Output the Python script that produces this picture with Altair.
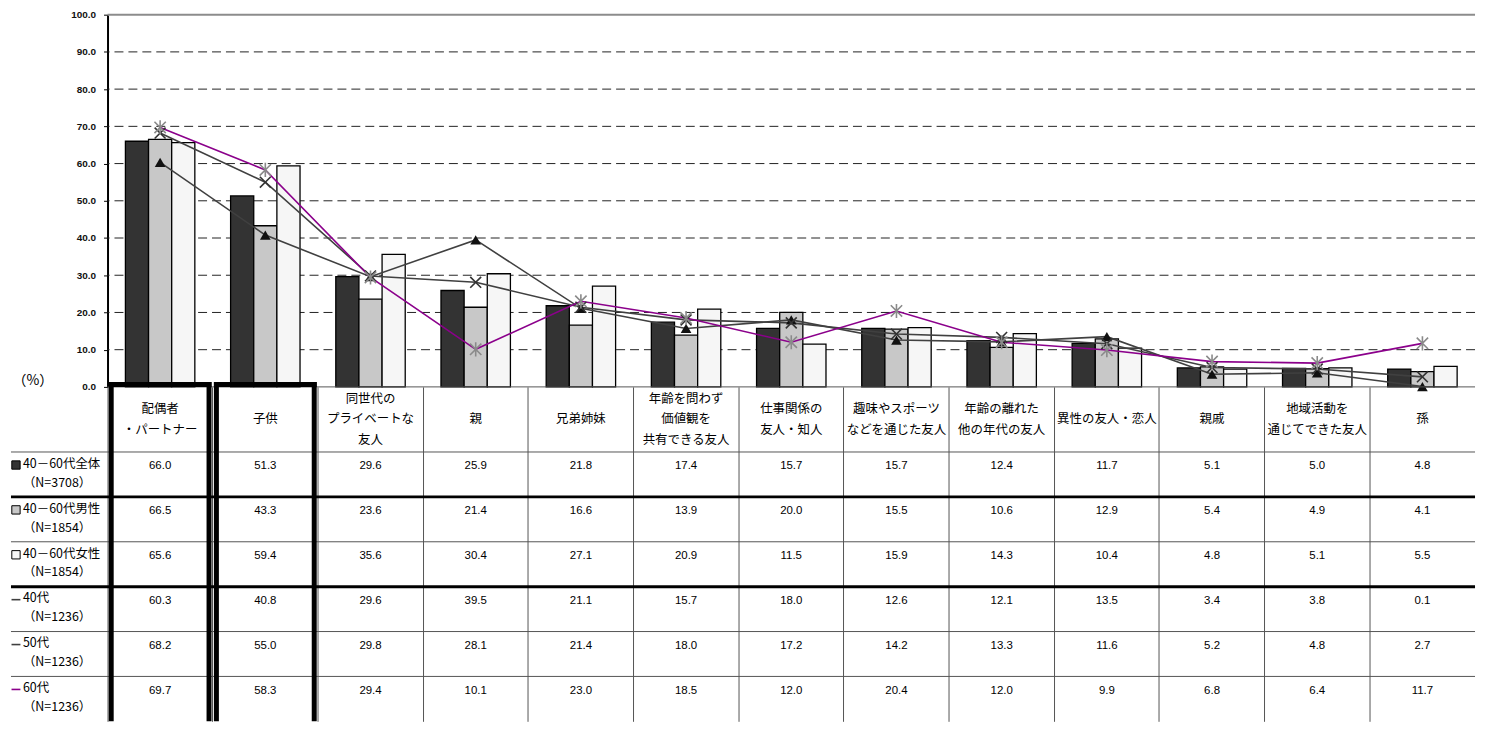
import altair as alt
import pandas as pd

# ---------------- data ----------------
categories = [
    "配偶者\n・パートナー", "子供", "同世代の\nプライベートな\n友人", "親", "兄弟姉妹",
    "年齢を問わず\n価値観を\n共有できる友人", "仕事関係の\n友人・知人",
    "趣味やスポーツ\nなどを通じた友人", "年齢の離れた\n他の年代の友人",
    "異性の友人・恋人", "親戚", "地域活動を\n通じてできた友人", "孫",
]
series_names = ["40－60代全体", "40－60代男性", "40－60代女性", "40代", "50代", "60代"]
sample_sizes = ["（N=3708）", "（N=1854）", "（N=1854）", "（N=1236）", "（N=1236）", "（N=1236）"]

total_4060 = [66.0, 51.3, 29.6, 25.9, 21.8, 17.4, 15.7, 15.7, 12.4, 11.7, 5.1, 5.0, 4.8]
male_4060 = [66.5, 43.3, 23.6, 21.4, 16.6, 13.9, 20.0, 15.5, 10.6, 12.9, 5.4, 4.9, 4.1]
female_4060 = [65.6, 59.4, 35.6, 30.4, 27.1, 20.9, 11.5, 15.9, 14.3, 10.4, 4.8, 5.1, 5.5]
age_40s = [60.3, 40.8, 29.6, 39.5, 21.1, 15.7, 18.0, 12.6, 12.1, 13.5, 3.4, 3.8, 0.1]
age_50s = [68.2, 55.0, 29.8, 28.1, 21.4, 18.0, 17.2, 14.2, 13.3, 11.6, 5.2, 4.8, 2.7]
age_60s = [69.7, 58.3, 29.4, 10.1, 23.0, 18.5, 12.0, 20.4, 12.0, 9.9, 6.8, 6.4, 11.7]

highlighted = categories[:2]          # columns framed in bold
y_ticks = [0, 10, 20, 30, 40, 50, 60, 70, 80, 90, 100]
grid_values = [10, 20, 30, 40, 50, 60, 70, 80, 90]

# ---------------- layout / style constants ----------------
W = 1374
H_TOP = 374
H_TAB = 336
HEADER_U = 1.45            # header height in row units
N_ROWS = 6
TAB_TOTAL = HEADER_U + N_ROWS
PX_PER_U = H_TAB / TAB_TOTAL
HEAD_LH = 21
JP = "Noto Sans CJK JP"
NUM = "Liberation Sans"

bar_fills = ["#333333", "#c8c8c8", "#f6f6f6"]
line_colors = ["#404040", "#404040", "#8b008b"]
X_PATH = "M-1,-1L1,1M-1,1L1,-1"
AST_PATH = "M-1,-1L1,1M-1,1L1,-1M0,-1.25L0,1.25"

all_series = [total_4060, male_4060, female_4060, age_40s, age_50s, age_60s]
records = []
for r, (name, vals) in enumerate(zip(series_names, all_series)):
    for i, (c, v) in enumerate(zip(categories, vals)):
        records.append({"series": name, "cat": c, "idx": i, "row": r, "value": v})
df = pd.DataFrame(records)
bars_df = df[df["row"] < 3]

# ---------------- top chart ----------------
x_top = alt.X("cat:N", sort=categories,
              scale=alt.Scale(domain=categories, paddingInner=0.34, paddingOuter=0.17),
              axis=None)
y_scale = alt.Scale(domain=[0, 100], nice=False, zero=True)
y_axis = alt.Axis(values=y_ticks, format=".1f", grid=False,
                  domainColor="black", domainWidth=2,
                  tickColor="black", tickSize=4, tickWidth=1,
                  labelFont=NUM, labelFontSize=10, labelFontWeight="bold", labelColor="#111111",
                  labelPadding=8,
                  title="（%）", titleAngle=0, titleAlign="left",
                  titleBaseline="middle", titleX=-96, titleY=H_TOP - 6,
                  titleFont=JP, titleFontSize=14, titleFontWeight="normal",
                  titleColor="black")
y_top = alt.Y("value:Q", scale=y_scale, axis=y_axis)

grid = alt.Chart(pd.DataFrame({"value": grid_values})).mark_rule(
    color="#222222", strokeDash=[9, 5], strokeWidth=1).encode(y=y_top)
top_border = alt.Chart(pd.DataFrame({"value": [100]})).mark_rule(
    color="#8c8c8c", strokeWidth=2).encode(y=y_top)

bars = alt.Chart(bars_df).mark_bar(stroke="black", strokeWidth=1.3).encode(
    x=x_top,
    xOffset=alt.XOffset("series:N", sort=series_names[:3],
                        scale=alt.Scale(domain=series_names[:3], paddingInner=0, paddingOuter=0)),
    y=y_top,
    fill=alt.Fill("series:N", scale=alt.Scale(domain=series_names[:3], range=bar_fills), legend=None),
)

layers = [grid, top_border, bars]
for k, name in enumerate(series_names[3:]):
    sub = df[df["series"] == name]
    layers.append(alt.Chart(sub).mark_line(color=line_colors[k], strokeWidth=1.6).encode(
        x=x_top, y=y_top, order=alt.Order("idx:Q")))

m40 = alt.Chart(df[df["series"] == series_names[3]]).mark_point(
    shape="triangle-up", filled=True, fill="#111111", size=115, opacity=1).encode(x=x_top, y=y_top)
m50 = alt.Chart(df[df["series"] == series_names[4]]).mark_point(
    shape=X_PATH, filled=False, stroke="#333333", strokeWidth=1.6, size=120, opacity=1).encode(x=x_top, y=y_top)
m60 = alt.Chart(df[df["series"] == series_names[5]]).mark_point(
    shape=AST_PATH, filled=False, stroke="#8a8a8a", strokeWidth=1.6, size=130, opacity=1).encode(x=x_top, y=y_top)
layers += [m40, m50, m60]

top = alt.layer(*layers).properties(width=W, height=H_TOP)

# ---------------- table chart ----------------
x_scale_tab = alt.Scale(domain=categories, paddingInner=0, paddingOuter=0)
x_axis_tab = alt.Axis(grid=True, bandPosition=0, ticks=False, labels=False,
                      domain=False, title=None, gridColor="#555555", gridWidth=1)
x_tab = alt.X("cat:N", sort=categories, scale=x_scale_tab, axis=x_axis_tab)
y_tab_scale = alt.Scale(domain=[0, TAB_TOTAL], reverse=True, nice=False, zero=False)


def ytab(field="ty"):
    return alt.Y(f"{field}:Q", scale=y_tab_scale, axis=None)


header = alt.Chart(pd.DataFrame({"cat": categories})).transform_calculate(
    nl="length(split(datum.cat, '\\n'))").transform_calculate(
    ty=f"{HEADER_U / 2} - (datum.nl - 1) * {HEAD_LH / 2} / {PX_PER_U}").mark_text(
    font=JP, fontSize=12.5, lineBreak="\n", lineHeight=HEAD_LH, baseline="middle",
    align="center", color="black").encode(x=x_tab, y=ytab(), text="cat:N")

values = alt.Chart(df).transform_calculate(
    ty=f"{HEADER_U} + datum.row + 0.32").mark_text(
    font=NUM, fontSize=11.5, baseline="middle", align="center", color="black").encode(
    x=x_tab, y=ytab(), text=alt.Text("value:Q", format=".1f"))

label_df = pd.DataFrame({"row": list(range(N_ROWS)),
                         "label": [f"{n}\n{s}" for n, s in zip(series_names, sample_sizes)],
                         "series": series_names})
row_labels = alt.Chart(label_df).transform_calculate(
    ty=f"{HEADER_U} + datum.row + 0.13").mark_text(
    font=JP, fontSize=12.5, lineBreak="\n", lineHeight=19, baseline="top",
    align="left", color="black").encode(x=alt.value(-85), y=ytab(), text="label:N")

sw_sq = alt.Chart(label_df[label_df["row"] < 3]).transform_calculate(
    ty=f"{HEADER_U} + datum.row + 0.29").mark_point(
    shape="square", filled=True, size=70, stroke="black", strokeWidth=1, opacity=1).encode(
    x=alt.value(-92), y=ytab(),
    fill=alt.Fill("series:N", scale=alt.Scale(domain=series_names[:3], range=bar_fills), legend=None))
sw_ln = alt.Chart(label_df[label_df["row"] >= 3]).transform_calculate(
    ty=f"{HEADER_U} + datum.row + 0.29").mark_point(
    shape="stroke", filled=False, size=80, strokeWidth=1.6, opacity=1).encode(
    x=alt.value(-92), y=ytab(),
    stroke=alt.Stroke("series:N", scale=alt.Scale(domain=series_names[3:], range=line_colors), legend=None))

sep_df = pd.DataFrame({"k": list(range(N_ROWS))})
thin_sep = alt.Chart(sep_df).transform_filter("datum.k != 1 && datum.k != 3").transform_calculate(
    ty=f"{HEADER_U} + datum.k").mark_rule(color="#555555", strokeWidth=1).encode(
    y=ytab(), x=alt.value(-97), x2=alt.value(W))
thick_sep = alt.Chart(sep_df).transform_filter("datum.k == 1 || datum.k == 3").transform_calculate(
    ty=f"{HEADER_U} + datum.k").mark_rule(color="black", strokeWidth=3).encode(
    y=ytab(), x=alt.value(-97), x2=alt.value(W))
top_line = alt.Chart(pd.DataFrame({"ty": [0]})).mark_rule(color="#555555", strokeWidth=1).encode(y=ytab())

box_df = pd.DataFrame({"cat": highlighted})
box_left = alt.Chart(box_df).mark_rule(color="black", strokeWidth=5).encode(
    x=alt.X("cat:N", sort=categories, scale=x_scale_tab, axis=x_axis_tab, bandPosition=0.035),
    y=alt.datum(-0.11, scale=y_tab_scale), y2=alt.datum(TAB_TOTAL))
box_right = alt.Chart(box_df).mark_rule(color="black", strokeWidth=5).encode(
    x=alt.X("cat:N", sort=categories, scale=x_scale_tab, axis=x_axis_tab, bandPosition=0.965),
    y=alt.datum(-0.11, scale=y_tab_scale), y2=alt.datum(TAB_TOTAL))
box_top = alt.Chart(box_df).mark_bar(width=alt.RelativeBandSize(0.977), color="black").encode(
    x=x_tab, y=alt.datum(-0.11, scale=y_tab_scale), y2=alt.datum(0))

table = alt.layer(header, top_line, thin_sep, thick_sep, values, row_labels, sw_sq, sw_ln,
                  box_left, box_right, box_top).properties(width=W, height=H_TAB)

chart = alt.vconcat(top, table, spacing=0, bounds="flush").resolve_scale(
    fill="independent", stroke="independent").configure_view(stroke=None).properties(
    padding={"left": 0, "top": 0, "right": 2, "bottom": 0})

chart.save("out.html", embed_options={"renderer": "svg", "actions": False})
